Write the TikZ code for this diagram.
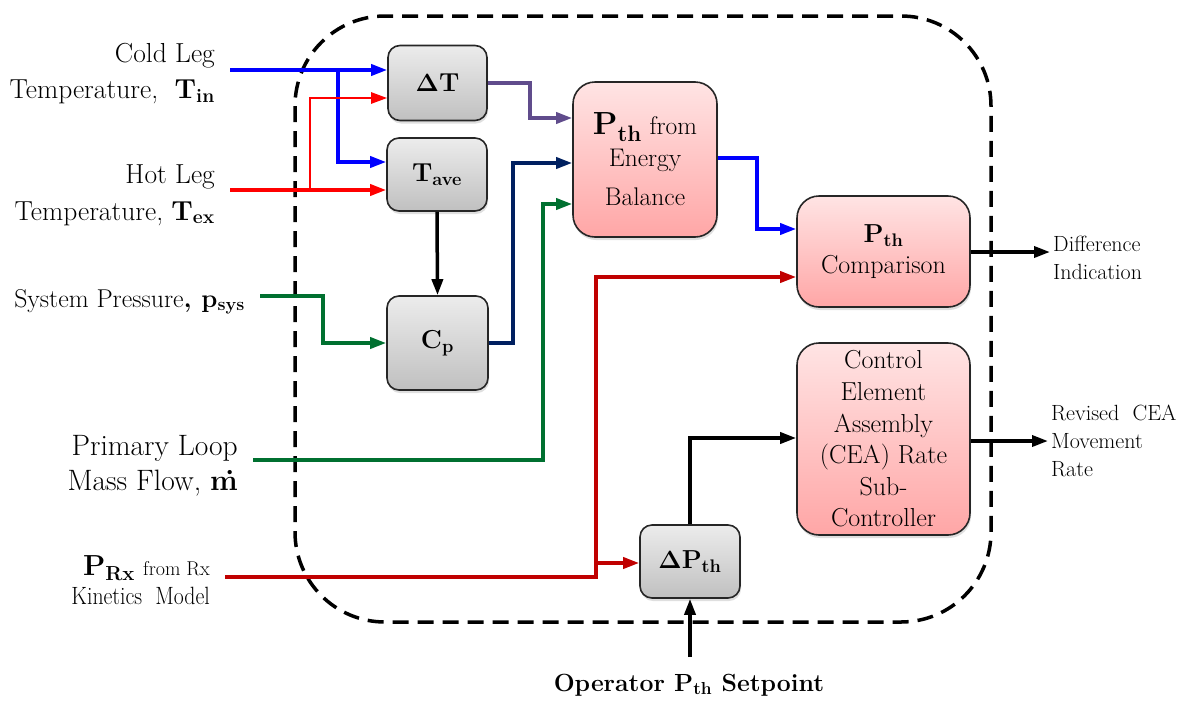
\documentclass[tikz,border=0pt]{standalone}
\usepackage{fontspec}
\usetikzlibrary{arrows.meta,shadows}

\definecolor{cblue}{RGB}{0,0,255}
\definecolor{cred}{RGB}{255,0,0}
\definecolor{cpurple}{RGB}{96,76,140}
\definecolor{cnavy}{RGB}{0,32,96}
\definecolor{cgreen}{RGB}{0,112,48}
\definecolor{cdred}{RGB}{192,0,0}
\definecolor{graytop}{RGB}{236,236,236}
\definecolor{graybot}{RGB}{192,192,192}
\definecolor{pinktop}{RGB}{255,228,228}
\definecolor{pinkbot}{RGB}{255,166,166}

\newcommand\fsz[2]{\fontsize{#1}{#2}\selectfont}
\newcommand\bsub[1]{\textsubscript{\bfseries #1}}
\newcommand\bDelta{{\boldmath$\Delta$}}

\tikzset{
  blockbase/.style={draw=black!85, line width=1.6pt, inner sep=0pt, align=center,
    drop shadow={shadow xshift=1pt, shadow yshift=-3pt, opacity=0.25}},
  graybox/.style={blockbase, rounded corners=12pt, top color=graytop, bottom color=graybot,
    font=\bfseries\fsz{26}{32}},
  pinkbox/.style={blockbase, rounded corners=22pt, top color=pinktop, bottom color=pinkbot,
    font=\fsz{26}{31.6}},
  conn/.style={line width=3.5pt, -{Triangle[length=16pt,width=11pt]}},
  thinconn/.style={line width=2.5pt, -{Triangle[length=16pt,width=11pt]}},
  leftlbl/.style={anchor=base east, inner sep=0pt, font=\fsz{27.5}{34}},
  rightlbl/.style={anchor=west, inner sep=3pt, align=left, font=\fsz{22}{28}},
  boundary/.style={line width=3.5pt, dash pattern=on 16pt off 9pt, rounded corners=90pt},
}

\begin{document}
\begin{tikzpicture}[x=1pt,y=-1pt]
\useasboundingbox (0,0) rectangle (1180,702);

% controller boundary
\draw[boundary] (295,16) rectangle (991,622);

% processing blocks
\node[graybox, minimum width=99pt, minimum height=75pt] (dT) at (437.5,83) {\bDelta T};
\node[graybox, minimum width=100pt, minimum height=73pt] (Tave) at (437,174.5) {T\bsub{ave}};
\node[graybox, minimum width=101pt, minimum height=94pt] (Cp) at (437.5,343) {C\bsub{p}};
\node[graybox, minimum width=100pt, minimum height=73pt] (dP) at (690,561.5) {\bDelta P\bsub{th}};

\node[pinkbox, minimum width=144pt, minimum height=155pt, font=\fsz{25.5}{32}] (PEB) at (645,159.5)
  {{\fsz{32}{32}\textbf{P}\bsub{th}} from\\ Energy\\[7pt] Balance};
\node[pinkbox, minimum width=173pt, minimum height=111pt] (PCmp) at (883.5,251.5)
  {\textbf{P}\bsub{th}\\ Comparison};
\node[pinkbox, minimum width=173pt, minimum height=192pt] (Ctrl) at (883.5,439)
  {Control\\ Element\\ Assembly\\ (CEA) Rate\\ Sub-\\ Controller};

% input labels
\node[leftlbl] (coldA) at (215,62) {Cold Leg};
\node[leftlbl] (coldB) at (215,98) {Temperature,\ \ \textbf{T}\bsub{in}};
\node[leftlbl] (hotA) at (215,183) {Hot Leg};
\node[leftlbl] (hotB) at (215,220) {Temperature,\ \textbf{T}\bsub{ex}};
\node[leftlbl, font=\fsz{25.8}{32}] (psys) at (245,307) {System Pressure\textbf{, p}\bsub{sys}};
\node[leftlbl, font=\fsz{29.5}{35}] (mfA) at (238,455) {Primary Loop};
\node[leftlbl, font=\fsz{29.5}{35}] (mfB) at (238,490) {Mass Flow, \textbf{\.{m}}};
\node[leftlbl] (prxA) at (210,575) {{\fsz{29}{30}\textbf{P}\bsub{Rx}} {\fsz{20}{24}from Rx}};
\node[leftlbl] (prxB) at (210,604) {\scalebox{0.87}[1]{\fsz{25}{30}Kinetics\ \ Model}};
\node[anchor=base, inner sep=0pt, font=\bfseries\fsz{24.8}{32}] (op) at (689,691) {Operator P\bsub{th} Setpoint};

% output labels
\node[rightlbl] (diff) at (1050,258) {Difference\\ Indication};
\node[rightlbl] (rev) at (1048,441) {Revised\ \ CEA\\ Movement\\ Rate};

% free ends of the input lines
\coordinate (coldS) at (230,70);
\coordinate (coldJ) at (338,70);
\coordinate (hotS) at (230,190);
\coordinate (hotJ) at (310,190);
\coordinate (psysS) at (260,296);
\coordinate (mfS) at (253,460);
\coordinate (prxS) at (225,577);
\coordinate (prxJ) at (596,577);
\coordinate (opS) at (690,657);

% temperatures
\draw[conn, cblue] (coldS) -- (coldS -| dT.west);
\draw[conn, cblue] (coldJ) |- (Tave.west |- 0,162);
\draw[conn, cred] (hotS) -- (hotS -| Tave.west);
\draw[thinconn, cred] (hotJ) |- (dT.west |- 0,98);

% into the energy balance
\draw[conn, cpurple] (dT.east |- 0,83) -- (530,83) |- (PEB.west |- 0,118);
\draw[conn, black] (Tave.south) -- (Cp.north);
\draw[conn, cgreen] (psysS) -- (323,296) |- (Cp.west);
\draw[conn, cnavy] (Cp.east) -- (513,343) |- (PEB.west |- 0,163);
\draw[conn, cgreen] (mfS) -- (543,460) |- (PEB.west |- 0,204);

% comparison and rate controller
\draw[conn, cblue] (PEB.east |- 0,158) -- (757,158) |- (PCmp.west |- 0,229);
\draw[conn, cdred] (prxS) -- (prxJ) |- (PCmp.west |- 0,277);
\draw[conn, cdred] (prxJ |- 0,563) -- (dP.west |- 0,563);
\draw[conn, black] (dP.north) |- (Ctrl.west |- 0,438);
\draw[conn, black] (opS) -- (dP.south);

% outputs
\draw[conn, black] (PCmp.east |- 0,252) -- (diff.west |- 0,252);
\draw[conn, black] (Ctrl.east |- 0,441) -- (rev.west |- 0,441);
\end{tikzpicture}
\end{document}
